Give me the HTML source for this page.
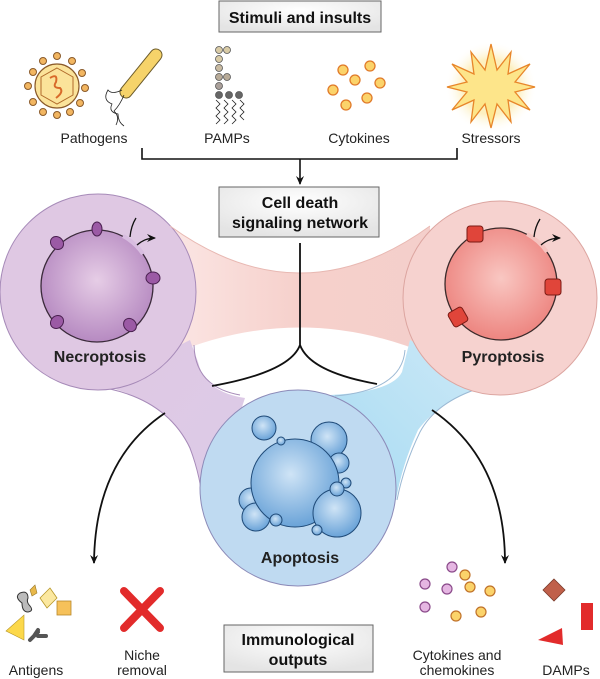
<!DOCTYPE html>
<html><head><meta charset="utf-8"><style>
html,body{margin:0;padding:0;background:#fff;}
svg{display:block;font-family:"Liberation Sans",sans-serif;}
</style></head><body>
<svg width="600" height="679" viewBox="0 0 600 679" xmlns="http://www.w3.org/2000/svg">
<defs>
<radialGradient id="gbox" cx="50%" cy="30%" r="70%"><stop offset="0" stop-color="#ffffff"/><stop offset="1" stop-color="#e4e4e4"/></radialGradient>
<radialGradient id="gnec" cx="50%" cy="45%" r="60%"><stop offset="0" stop-color="#e6cde6"/><stop offset="1" stop-color="#b284be"/></radialGradient>
<radialGradient id="gpyr" cx="50%" cy="45%" r="60%"><stop offset="0" stop-color="#f9c7c2"/><stop offset="1" stop-color="#ec7f7a"/></radialGradient>
<radialGradient id="gapo" cx="45%" cy="40%" r="60%"><stop offset="0" stop-color="#cfe4f6"/><stop offset="1" stop-color="#6aa3d8"/></radialGradient>
<linearGradient id="gband" x1="0" x2="1"><stop offset="0" stop-color="#fbe6e4"/><stop offset="0.5" stop-color="#f6d0cb"/><stop offset="1" stop-color="#f4cfcb"/></linearGradient>
<linearGradient id="gpur" x1="0" y1="0" x2="1" y2="1"><stop offset="0" stop-color="#dfc8e3"/><stop offset="1" stop-color="#dccbe8"/></linearGradient>
<linearGradient id="gblu" x1="1" y1="0" x2="0" y2="1"><stop offset="0" stop-color="#cde9f7"/><stop offset="1" stop-color="#a7dbf2"/></linearGradient>
<radialGradient id="gstar" cx="50%" cy="50%" r="50%"><stop offset="0" stop-color="#fff3b0"/><stop offset="0.6" stop-color="#fdf0c0"/><stop offset="1" stop-color="#fff" stop-opacity="0"/></radialGradient>
<marker id="ar" markerWidth="10" markerHeight="10" refX="8" refY="5" orient="auto" markerUnits="userSpaceOnUse"><path d="M0,1 L9,5 L0,9 L3,5 Z" fill="#111"/></marker>
</defs>

<rect x="219" y="1" width="162" height="31" fill="url(#gbox)" stroke="#666" stroke-width="1"/>
<text x="300" y="23" text-anchor="middle" font-weight="bold" font-size="16" fill="#111">Stimuli and insults</text>

<g stroke="#8a5a2a" stroke-width="1">
<g fill="#f2b661">
<circle cx="57" cy="56" r="3.5"/><circle cx="72" cy="61" r="3.5"/><circle cx="82" cy="73" r="3.5"/><circle cx="85" cy="88" r="3.5"/><circle cx="80" cy="103" r="3.5"/><circle cx="70" cy="112" r="3.5"/><circle cx="57" cy="115" r="3.5"/><circle cx="43" cy="112" r="3.5"/><circle cx="33" cy="102" r="3.5"/><circle cx="28" cy="86" r="3.5"/><circle cx="33" cy="72" r="3.5"/><circle cx="43" cy="61" r="3.5"/>
</g>
<circle cx="57" cy="86" r="22" fill="#fbe39a" stroke="#8a5a2a" stroke-width="1.2"/>
<polygon points="57,68 73,77 73,95 57,104 41,95 41,77" fill="none" stroke="#b06a2a"/>
<path d="M50,78 q8,-5 6,4 q-4,6 4,6 q4,4 -4,10" fill="none" stroke="#d86a2a" stroke-width="2"/>
</g>
<path d="M126,92 L156,55" stroke="#6b5a2a" stroke-width="13" stroke-linecap="round"/>
<path d="M126,92 L156,55" stroke="#f6d36a" stroke-width="11" stroke-linecap="round"/>
<path d="M122,90 q-10,5 -14,0 q-6,10 4,14 q-4,8 6,10 q0,8 6,12 M124,95 q-4,10 -10,16 q6,6 2,14" fill="none" stroke="#222" stroke-width="0.8"/>

<g stroke="#555" stroke-width="0.8">
<circle cx="219" cy="50" r="3.5" fill="#d9cba6"/><circle cx="227" cy="50" r="3.5" fill="#d9cba6"/>
<circle cx="219" cy="59" r="3.5" fill="#d9cba6"/><circle cx="219" cy="68" r="3.5" fill="#c9bba2"/><circle cx="219" cy="77" r="3.5" fill="#b8ab98"/><circle cx="227" cy="77" r="3.5" fill="#b8ab98"/>
<circle cx="219" cy="86" r="3.5" fill="#aaa09a"/><circle cx="219" cy="95" r="3.5" fill="#666"/><circle cx="229" cy="95" r="3.5" fill="#666"/><circle cx="239" cy="95" r="3.5" fill="#666"/>
</g>
<path d="M216,100 l4,4 -4,4 4,4 -4,4 4,4 -4,4 M224,100 l4,4 -4,4 4,4 -4,4 4,4 -4,4 M232,100 l4,4 -4,4 4,4 -4,4 4,4 -4,4 M240,100 l4,4 -4,4 4,4 -4,4 4,4" fill="none" stroke="#222" stroke-width="0.8"/>

<g fill="#fbd36a" stroke="#e07a2a" stroke-width="1.3">
<circle cx="343" cy="70" r="5"/><circle cx="370" cy="66" r="5"/><circle cx="355" cy="80" r="5"/><circle cx="380" cy="83" r="5"/><circle cx="333" cy="90" r="5"/><circle cx="367" cy="98" r="5"/><circle cx="346" cy="105" r="5"/>
</g>

<circle cx="491" cy="87" r="46" fill="url(#gstar)"/>
<polygon points="491,44 497,70 511,52 508,74 530,64 515,82 535,87 515,92 530,110 508,100 511,122 497,104 491,128 485,104 471,122 474,100 452,110 467,92 447,87 467,82 452,64 474,74 471,52 485,70" fill="#fde58a" stroke="#e8862a" stroke-width="1.3"/>

<g font-size="14" fill="#222" text-anchor="middle">
<text x="94" y="143">Pathogens</text><text x="227" y="143">PAMPs</text><text x="359" y="143">Cytokines</text><text x="491" y="143">Stressors</text>
</g>
<path d="M142,148 V159 H457 V148" fill="none" stroke="#111" stroke-width="1.6"/>
<line x1="300" y1="159" x2="300" y2="184" stroke="#111" stroke-width="1.6" marker-end="url(#ar)"/>

<!-- bands -->
<path d="M170,226 Q300,320 430,226 L430,355 Q300,300 170,355 Z" fill="url(#gband)"/>
<path d="M100,385 Q165,400 188,445 Q203,480 205,518 L245,398 Q205,392 198,362 L190,340 Z" fill="url(#gpur)"/>
<path d="M490,385 Q440,400 418,430 Q402,465 396,500 L330,395 Q392,392 402,372 L410,340 Z" fill="url(#gblu)"/>
<path d="M194,345 Q195,387 240,395" fill="none" stroke="#a68ab8" stroke-width="1"/>
<path d="M405,350 Q402,390 335,396" fill="none" stroke="#9cb9d4" stroke-width="1"/>
<path d="M110,389 Q168,402 190,448 Q202,480 204,515" fill="none" stroke="#a68ab8" stroke-width="1"/>
<path d="M480,388 Q436,402 420,432 Q404,465 397,500" fill="none" stroke="#9cb9d4" stroke-width="1"/>

<circle cx="98" cy="292" r="98" fill="#dfc8e3" stroke="#a68ab8" stroke-width="1"/>
<circle cx="500" cy="298" r="97" fill="#f6d2cf" stroke="#dca5a0" stroke-width="1"/>
<path d="M170,226 Q300,320 430,226" fill="none" stroke="#e8b8b2" stroke-width="1"/>
<circle cx="298" cy="488" r="98" fill="#bfdaf1" stroke="#8c8ab8" stroke-width="1"/>

<g fill="none" stroke="#111" stroke-width="1.8">
<path d="M300,243 V345 Q290,372 212,386"/>
<path d="M300,345 Q310,372 377,384"/>
<path d="M165,413 Q95,460 94,563" marker-end="url(#ar)"/>
<path d="M432,410 Q505,460 505,563" marker-end="url(#ar)"/>
</g>

<rect x="219" y="187" width="160" height="50" fill="url(#gbox)" stroke="#666" stroke-width="1"/>
<text x="300" y="208" text-anchor="middle" font-weight="bold" font-size="16" fill="#111">Cell death</text>
<text x="300" y="228" text-anchor="middle" font-weight="bold" font-size="16" fill="#111">signaling network</text>

<circle cx="97" cy="286" r="56" fill="url(#gnec)" stroke="#3a2a3a" stroke-width="1.3"/>
<path d="M123,236 a56,56 0 0 1 20,18" stroke="#d8bde0" stroke-width="4" fill="none"/>
<g fill="#9b5aa5" stroke="#4a2050" stroke-width="1">
<ellipse cx="97" cy="229" rx="5" ry="7"/><ellipse cx="57" cy="243" rx="6" ry="7" transform="rotate(-45 57 243)"/><ellipse cx="153" cy="278" rx="7" ry="6"/><ellipse cx="57" cy="322" rx="6" ry="7" transform="rotate(45 57 322)"/><ellipse cx="130" cy="325" rx="6" ry="7" transform="rotate(-40 130 325)"/>
</g>
<path d="M130,237 Q131,226 136,218 M137,245 Q145,238 155,238" fill="none" stroke="#111" stroke-width="1.3" marker-end="url(#ar)"/>
<text x="100" y="362" text-anchor="middle" font-weight="bold" font-size="16" fill="#222">Necroptosis</text>

<circle cx="501" cy="284" r="56" fill="url(#gpyr)" stroke="#3a2a2a" stroke-width="1.3"/>
<path d="M527,234 a56,56 0 0 1 20,18" stroke="#f5c3bf" stroke-width="4" fill="none"/>
<g fill="#e0453a" stroke="#7a1a14" stroke-width="1">
<rect x="467" y="226" width="16" height="16" rx="3"/><rect x="545" y="279" width="16" height="16" rx="3"/><rect x="450" y="309" width="16" height="16" rx="3" transform="rotate(-30 458 317)"/>
</g>
<path d="M534,237 Q535,227 540,219 M541,245 Q549,238 560,238" fill="none" stroke="#111" stroke-width="1.3" marker-end="url(#ar)"/>
<text x="503" y="362" text-anchor="middle" font-weight="bold" font-size="16" fill="#222">Pyroptosis</text>

<g fill="url(#gapo)" stroke="#1f4a78" stroke-width="1">
<circle cx="264" cy="428" r="12"/><circle cx="329" cy="440" r="18"/><circle cx="339" cy="463" r="10"/><circle cx="251" cy="500" r="12"/><circle cx="256" cy="517" r="14"/>
<circle cx="295" cy="483" r="44"/><circle cx="337" cy="513" r="24"/>
<circle cx="281" cy="441" r="4"/><circle cx="346" cy="483" r="5"/><circle cx="276" cy="520" r="6"/><circle cx="317" cy="530" r="5"/><circle cx="337" cy="489" r="7"/>
</g>
<text x="300" y="563" text-anchor="middle" font-weight="bold" font-size="16" fill="#222">Apoptosis</text>

<path d="M30,590 l5,-5 2,8 -5,3 z" fill="#e8b84a" stroke="#9a7a2a" stroke-width="0.6"/>
<path d="M22,603 q-8,-6 -2,-10 q8,-3 8,5 q-2,4 2,8 q4,5 -2,6 q-6,0 -6,-9z" fill="#bbb" stroke="#333" stroke-width="1"/>
<polygon points="40,598 50,588 57,598 47,608" fill="#fbe8a0" stroke="#b8982a" stroke-width="0.8"/>
<rect x="57" y="601" width="14" height="14" fill="#f6c15a" stroke="#b8882a" stroke-width="0.8"/>
<polygon points="6,631 24,615 24,640" fill="#fcd84a" stroke="#b8982a" stroke-width="0.6"/>
<path d="M30,640 l8,-8 m-4,4 l4,-6 m0,6 l8,0" stroke="#555" stroke-width="4" stroke-linecap="round" fill="none"/>
<path d="M124,591 L160,628 M160,591 L124,628" stroke="#e22b2b" stroke-width="8" stroke-linecap="round"/>
<g stroke-width="1.2">
<circle cx="452" cy="567" r="5" fill="#e5b6e2" stroke="#8a4a8a"/><circle cx="465" cy="575" r="5" fill="#fbd36a" stroke="#c0722a"/>
<circle cx="425" cy="584" r="5" fill="#e5b6e2" stroke="#8a4a8a"/><circle cx="447" cy="589" r="5" fill="#e5b6e2" stroke="#8a4a8a"/><circle cx="470" cy="587" r="5" fill="#fbd36a" stroke="#c0722a"/><circle cx="490" cy="591" r="5" fill="#fbd36a" stroke="#c0722a"/>
<circle cx="425" cy="607" r="5" fill="#e5b6e2" stroke="#8a4a8a"/><circle cx="456" cy="616" r="5" fill="#fbd36a" stroke="#c0722a"/><circle cx="481" cy="612" r="5" fill="#fbd36a" stroke="#c0722a"/>
</g>
<polygon points="554,579 565,590 554,601 543,590" fill="#c0604a" stroke="#7a3a2a" stroke-width="0.8"/>
<rect x="581" y="603" width="12" height="27" fill="#e22b2b"/>
<polygon points="538,640 562,628 563,645" fill="#e22b2b"/>

<rect x="224" y="625" width="149" height="47" fill="url(#gbox)" stroke="#666" stroke-width="1"/>
<text x="298" y="645" text-anchor="middle" font-weight="bold" font-size="16" fill="#111">Immunological</text>
<text x="298" y="665" text-anchor="middle" font-weight="bold" font-size="16" fill="#111">outputs</text>

<g font-size="14" fill="#222" text-anchor="middle">
<text x="36" y="675">Antigens</text>
<text x="142" y="660">Niche</text><text x="142" y="675">removal</text>
<text x="457" y="660">Cytokines and</text><text x="457" y="675">chemokines</text>
<text x="566" y="675">DAMPs</text>
</g>
</svg>
</body></html>
